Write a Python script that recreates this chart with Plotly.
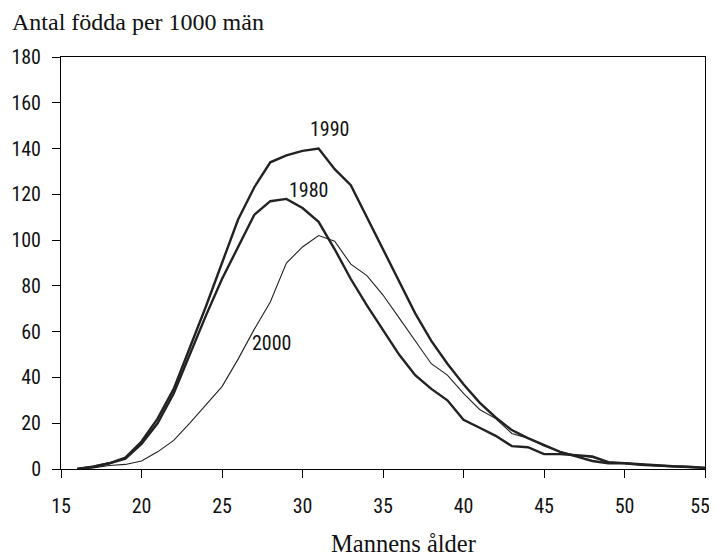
import plotly.graph_objects as go

alder = list(range(16, 56))

fodda_1980 = [0, 1, 2.5, 4.5, 11, 20, 33, 50, 67, 83, 97, 111, 117, 118, 114, 108,
              96, 83, 71.5, 61, 50, 41, 35, 30, 21.5, 18, 14.5, 10, 9.5, 6.5,
              6.5, 6, 5.5, 3, 2.5, 2, 1.5, 1.2, 1, 0.5]
fodda_1990 = [0, 1, 2.5, 5, 12, 22, 35, 53, 71, 90, 109, 123, 134, 137, 139, 140,
              131, 124, 110, 96, 82, 68, 56, 46, 37, 29, 22.5, 17, 13.5, 10.5,
              7.5, 5.5, 3.5, 2.5, 2.5, 1.8, 1.5, 1.2, 1, 0.5]
fodda_2000 = [0, 0.5, 1.5, 2, 3.5, 7.5, 12.5, 20, 28, 36, 48, 61, 73, 90, 97, 102,
              99.5, 89.5, 84.5, 76, 66, 56, 46, 41, 33, 26, 22, 15.5, 13.5, 10,
              7.5, 6, 5, 3, 2.5, 2, 1.5, 1.2, 1, 0.5]

x_ticks = [15, 20, 25, 30, 35, 40, 45, 50, 55]
# sista etiketten får ett figurmellanrum så att den inte hamnar utanför kanten
x_ticktext = ["15", "20", "25", "30", "35", "40", "45", "50", "55\u2007"]
y_ticks = [0, 20, 40, 60, 80, 100, 120, 140, 160, 180]

# etiketter vid kurvorna: (text, ålder, värde)
etiketter = [("1990", 31.7, 148.5), ("1980", 30.4, 122), ("2000", 28.1, 55)]

sans = "Liberation Sans Narrow, Roboto Condensed, Arial Narrow, sans-serif"
serif = "Liberation Serif, DejaVu Serif, serif"

fig = go.Figure()
fig.add_trace(go.Scatter(x=alder, y=fodda_2000, mode='lines', name='2000',
                         line=dict(color='#222222', width=1.1)))
fig.add_trace(go.Scatter(x=alder, y=fodda_1980, mode='lines', name='1980',
                         line=dict(color='#222222', width=2.4)))
fig.add_trace(go.Scatter(x=alder, y=fodda_1990, mode='lines', name='1990',
                         line=dict(color='#222222', width=2.4)))

for txt, ax, ay in etiketter:
    fig.add_annotation(x=ax, y=ay, text=txt, showarrow=False,
                       font=dict(family=sans, size=20, color='#111111'))

# sidan har 8 px marginal i webbläsaren, därför förskjutna marginaler
fig.add_annotation(xref='paper', yref='paper', x=-0.079, y=1.085,
                   xanchor='left', yanchor='middle', showarrow=False,
                   text="Antal födda per 1000 män",
                   font=dict(family=serif, size=24, color='#111111'))
fig.add_annotation(xref='paper', yref='paper', x=0.532, y=-0.181,
                   xanchor='center', yanchor='middle', showarrow=False,
                   text="Mannens ålder",
                   font=dict(family=serif, size=24.5, color='#111111'))

fig.update_xaxes(range=[15, 55], tickvals=x_ticks, ticktext=x_ticktext,
                 showgrid=False, zeroline=False, showline=True, mirror=True,
                 linecolor='black', linewidth=1, ticks='outside', ticklen=8,
                 tickcolor='black', ticklabelstandoff=11, automargin=False,
                 tickfont=dict(family=sans, size=20, color='#111111'))
fig.update_yaxes(range=[0, 180], tickvals=y_ticks,
                 showgrid=False, zeroline=False, showline=True, mirror=True,
                 linecolor='black', linewidth=1, ticks='outside', ticklen=8,
                 tickcolor='black', ticklabelstandoff=7, automargin=False,
                 tickfont=dict(family=sans, size=20, color='#111111'))

fig.update_layout(width=717, height=550, showlegend=False,
                  plot_bgcolor='white', paper_bgcolor='white',
                  margin=dict(l=53, r=20, t=49, b=89))

fig.write_html("out.html")
